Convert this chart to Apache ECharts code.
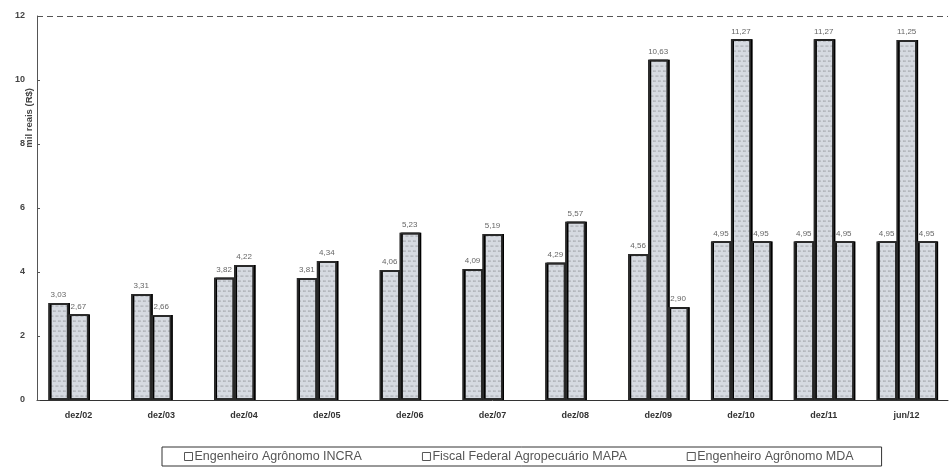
<!DOCTYPE html>
<html>
<head>
<meta charset="utf-8">
<script src="https://cdn.jsdelivr.net/npm/echarts@6/dist/echarts.min.js"></script>
<style>
    html, body { margin: 0; padding: 0; background: #fff; }
    #chart { width: 950px; height: 470px; }
</style>
</head>
<body>
<div id="chart"></div>
<script>
// valores (mil R$)
const categorias = ['dez/02', 'dez/03', 'dez/04', 'dez/05', 'dez/06', 'dez/07', 'dez/08', 'dez/09', 'dez/10', 'dez/11', 'jun/12'];
const incra = [3.03, 3.31, 3.82, 3.81, 4.06, 4.09, 4.29, 4.56, 4.95, 4.95, 4.95];
const mapa = [2.67, 2.66, 4.22, 4.34, 5.23, 5.19, 5.57, 10.63, 11.27, 11.27, 11.25];
const mda = [null, null, null, null, null, null, null, 2.90, 4.95, 4.95, 4.95];
const nomes = ['Engenheiro Agrônomo INCRA', 'Fiscal Federal Agropecuário MAPA', 'Engenheiro Agrônomo MDA'];

let myChart = echarts.init(document.getElementById('chart'));

function serie(nome, dados) {
    return {
        name: nome,
        type: 'bar',
        data: dados,
        barWidth: 20,
        barGap: '0%',
        itemStyle: {
            color: '#d6dae1',
            borderColor: '#2a2a2a',
            borderWidth: 1.5,
            shadowColor: '#333',
            shadowOffsetX: 1.5,
            shadowBlur: 0,
            decal: {
                symbol: 'circle',
                symbolSize: 0.6,
                color: 'rgba(80,80,80,0.5)',
                dashArrayX: [[2, 3], [0, 2, 3, 0]],
                dashArrayY: [2, 3],
                rotation: 0
            }
        },
        label: {
            show: true,
            position: 'top',
            distance: 4,
            fontSize: 8,
            color: '#666',
            formatter: p => p.value == null ? '' : p.value.toFixed(2).replace('.', ',')
        }
    };
}

let series = [serie(nomes[0], incra), serie(nomes[1], mapa), serie(nomes[2], mda)];
series[0].markLine = {
    silent: true,
    symbol: 'none',
    label: { show: false },
    lineStyle: { color: '#555', type: [6, 4], width: 1.2 },
    data: [{ yAxis: 12 }]
};

let option = {
    animation: false,
    textStyle: { fontFamily: 'Liberation Sans, Arial, sans-serif' },
    grid: {
        left: 37,
        right: 2,
        top: 16,
        bottom: 70,
        outerBoundsMode: 'none'
    },
    legend: {
        data: nomes,
        left: 162,
        top: 447,
        icon: 'rect',
        itemWidth: 8,
        itemHeight: 8,
        itemGap: 60,
        padding: [3, 28, 3, 22],
        borderColor: '#333',
        borderWidth: 1,
        itemStyle: { color: '#fff', borderColor: '#555', borderWidth: 1, decal: 'none', shadowOffsetX: 0 },
        textStyle: { fontSize: 12.5, color: '#555', padding: [0, 0, 0, -3] }
    },
    xAxis: {
        type: 'category',
        data: categorias,
        axisLine: { lineStyle: { color: '#333', width: 1 } },
        axisTick: { show: false },
        axisLabel: { fontSize: 9, fontWeight: 'bold', color: '#333', margin: 11 }
    },
    yAxis: {
        type: 'value',
        min: 0,
        max: 12,
        interval: 2,
        axisLine: { show: true, lineStyle: { color: '#555' } },
        axisTick: { show: true, inside: true, length: 3, lineStyle: { color: '#555' } },
        splitLine: { show: false },
        axisLabel: { fontSize: 9, fontWeight: 'bold', color: '#444', margin: 12 }
    },
    graphic: [{
        type: 'text',
        left: 24,
        top: 88,
        rotation: Math.PI / 2,
        style: { text: 'mil reais (R$)', fontSize: 9.5, fontWeight: 'bold', fill: '#444' }
    }],
    series: series
};
myChart.setOption(option);

window.addEventListener('resize', () => {
    myChart.resize();
});
</script>
</body>
</html>
